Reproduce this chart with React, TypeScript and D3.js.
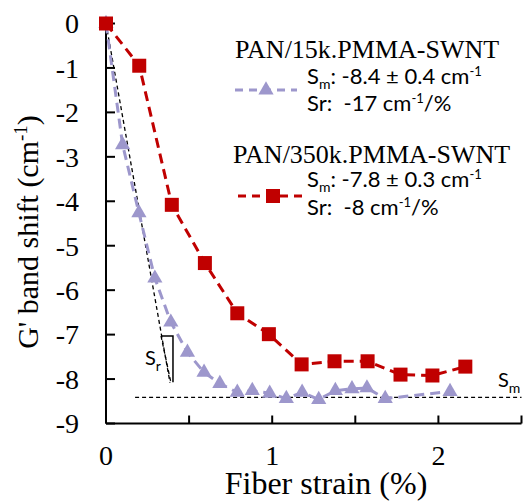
import React from "react";
import * as d3 from "d3";

// Data
const strain15k = [0, 0.1, 0.198, 0.294, 0.39, 0.49, 0.59, 0.685, 0.79, 0.88, 0.985, 1.085, 1.18, 1.28, 1.38, 1.48, 1.57, 1.68, 2.07];
const shift15k = [0, -2.73, -4.26, -5.73, -6.72, -7.4, -7.85, -8.1, -8.3, -8.26, -8.32, -8.44, -8.3, -8.46, -8.26, -8.22, -8.2, -8.44, -8.28];
const strain350k = [0, 0.2, 0.396, 0.595, 0.79, 0.98, 1.177, 1.375, 1.574, 1.772, 1.964, 2.162];
const shift350k = [0, -0.95, -4.08, -5.39, -6.52, -6.99, -7.67, -7.6, -7.6, -7.9, -7.92, -7.72];
const yTicks = [0, -1, -2, -3, -4, -5, -6, -7, -8, -9];
const xTicks = [0, 0.5, 1, 1.5, 2, 2.5];
const xTickLabels = [0, 1, 2];
const smLevel = -8.41;
const srLine = [[0, 0], [0.385, -8.08]];
const srBracket = [[0.331, -7.03], [0.403, -7.03], [0.403, -8.07]];
const srHyp = [[0.331, -7.03], [0.39, -8.07]];

const W = 525, H = 502;
const x = d3.scaleLinear().domain([0, 2.5]).range([106, 521.5]);
const y = d3.scaleLinear().domain([0, -9]).range([23.5, 423.5]);

const RED = "#c00000";
const PURPLE = "#9d97cc";
const SERIF = "'Liberation Serif', 'Times New Roman', serif";
const SANS = "Lato, 'Open Sans', sans-serif";

const line = d3.line<[number, number]>().x(d => x(d[0])).y(d => y(d[1]));
const tri = d3.symbol().type(d3.symbolTriangle).size(100)();

export default function App() {
  const p15 = strain15k.map((s, i) => [s, shift15k[i]] as [number, number]);
  const p350 = strain350k.map((s, i) => [s, shift350k[i]] as [number, number]);
  return (
    <svg width={W} height={H} style={{ position: "absolute", left: 0, top: 0, background: "#fff" }}>
      {/* axes */}
      <line x1={x(0)} x2={x(0)} y1={y(0)} y2={y(-9)} stroke="#000" strokeWidth={2} />
      <line x1={x(0)} x2={x(2.5)} y1={y(-9)} y2={y(-9)} stroke="#000" strokeWidth={2} />
      {yTicks.map(t => (
        <g key={"y" + t}>
          <line x1={x(0)} x2={x(0) + 9} y1={y(t)} y2={y(t)} stroke="#000" strokeWidth={2} />
          <text x={79} y={y(t)} dy="0.35em" textAnchor="end" fontFamily={SERIF} fontSize={28}>{t}</text>
        </g>
      ))}
      {xTicks.map(t => (
        <line key={"x" + t} x1={x(t)} x2={x(t)} y1={y(-9)} y2={y(-9) - 8} stroke="#000" strokeWidth={2} />
      ))}
      {xTickLabels.map(t => (
        <text key={"xl" + t} x={x(t)} y={465} textAnchor="middle" fontFamily={SERIF} fontSize={28}>{t}</text>
      ))}
      <text x={326} y={494} textAnchor="middle" fontFamily={SERIF} fontSize={32}>Fiber strain (%)</text>
      <text x={38} y={232} textAnchor="middle" fontFamily={SERIF} fontSize={30} transform="rotate(-90 38 232)">
        G' band shift (cm<tspan fontSize={19} dy={-11}>-1</tspan><tspan dy={11}>)</tspan>
      </text>

      {/* reference dashed lines */}
      <line x1={x(0.175)} x2={x(2.5)} y1={y(smLevel)} y2={y(smLevel)} stroke="#000" strokeWidth={1.3} strokeDasharray="4,3" />
      <path d={line(srLine as [number, number][]) || ""} fill="none" stroke="#000" strokeWidth={1.3} strokeDasharray="4,3" />
      <path d={line(srHyp as [number, number][]) || ""} fill="none" stroke="#000" strokeWidth={1.3} strokeDasharray="4,3" />
      <path d={line(srBracket as [number, number][]) || ""} fill="none" stroke="#000" strokeWidth={1.5} />
      <text x={145} y={365} fontFamily={SANS} fontSize={20}>S<tspan fontSize={14} dy={6}>r</tspan></text>
      <text x={498} y={387} fontFamily={SANS} fontSize={20}>S<tspan fontSize={14} dy={6}>m</tspan></text>

      {/* series */}
      <path d={line(p15) || ""} fill="none" stroke={PURPLE} strokeWidth={3} strokeDasharray="10,6" />
      {p15.map((d, i) => (
        <path key={"t" + i} d={tri || ""} transform={`translate(${x(d[0])},${y(d[1])})`} fill={PURPLE} />
      ))}
      <path d={line(p350) || ""} fill="none" stroke={RED} strokeWidth={3} strokeDasharray="10,6" />
      {p350.map((d, i) => (
        <rect key={"s" + i} x={x(d[0]) - 7} y={y(d[1]) - 7} width={14} height={14} fill={RED} />
      ))}

      {/* legend */}
      <text x={235} y={58} fontFamily={SERIF} fontSize={26}>PAN/15k.PMMA-SWNT</text>
      <line x1={235} x2={297} y1={90} y2={90} stroke={PURPLE} strokeWidth={3} strokeDasharray="8,6" />
      <path d={tri || ""} transform="translate(266,90)" fill={PURPLE} />
      <text x={307} y={84} fontFamily={SANS} fontSize={22} style={{ whiteSpace: "pre" }}>
        S<tspan fontSize={14} dy={5}>m</tspan><tspan dy={-5}>: -8.4 ± 0.4 cm</tspan><tspan fontSize={13} dy={-8}>-1</tspan>
      </text>
      <text x={307} y={111} fontFamily={SANS} fontSize={22} style={{ whiteSpace: "pre" }}>
        {"Sr:  -17 cm"}<tspan fontSize={13} dy={-8}>-1</tspan><tspan dy={8}>/%</tspan>
      </text>

      <text x={233} y={163} fontFamily={SERIF} fontSize={26}>PAN/350k.PMMA-SWNT</text>
      <line x1={238} x2={302} y1={196} y2={196} stroke={RED} strokeWidth={3} strokeDasharray="8,6" />
      <rect x={273 - 7} y={196 - 7} width={14} height={14} fill={RED} />
      <text x={307} y={187} fontFamily={SANS} fontSize={22} style={{ whiteSpace: "pre" }}>
        S<tspan fontSize={14} dy={5}>m</tspan><tspan dy={-5}>: -7.8 ± 0.3 cm</tspan><tspan fontSize={13} dy={-8}>-1</tspan>
      </text>
      <text x={307} y={215} fontFamily={SANS} fontSize={22} style={{ whiteSpace: "pre" }}>
        {"Sr:  -8 cm"}<tspan fontSize={13} dy={-8}>-1</tspan><tspan dy={8}>/%</tspan>
      </text>
    </svg>
  );
}
